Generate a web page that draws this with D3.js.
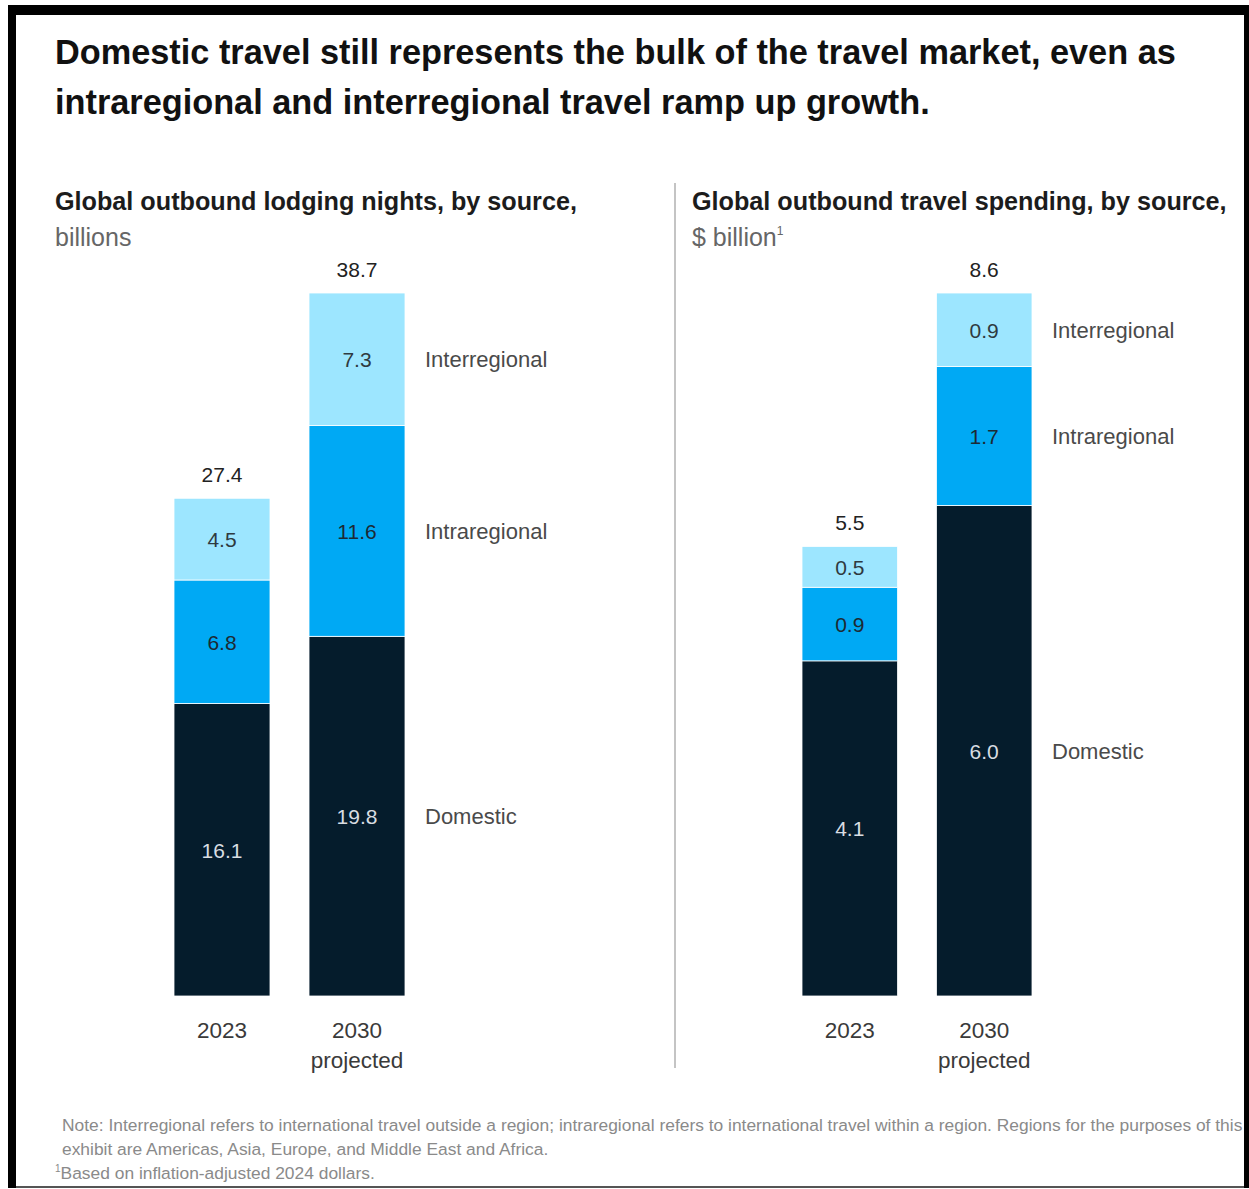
<!DOCTYPE html>
<html>
<head>
<meta charset="utf-8">
<script src="https://cdn.jsdelivr.net/npm/d3@7"></script>
<style>
  html, body { margin: 0; padding: 0; background: #fff; }
  svg { display: block; font-family: "Liberation Sans", Arial, sans-serif; }
</style>
</head>
<body>
<svg id="chart" width="1249" height="1189"></svg>
<script>
// Categories and series
const years = ["2023", "2030"];
const yearNotes = ["", "projected"];
const seriesNames = ["Domestic", "Intraregional", "Interregional"];

// Global outbound lodging nights, billions
const nightsDomestic = [16.1, 19.8];
const nightsIntra = [6.8, 11.6];
const nightsInter = [4.5, 7.3];
const nightsTotal = [27.4, 38.7];

// Global outbound travel spending, $ billion
const spendDomestic = [4.1, 6.0];
const spendIntra = [0.9, 1.7];
const spendInter = [0.5, 0.9];
const spendTotal = [5.5, 8.6];

const seriesColors = ["#051c2c", "#00a9f4", "#9de6ff"];
const valueTextColors = ["#d8dde2", "#1d2a33", "#2f3a40"];

const svg = d3.select("#chart");

// Title
const title = svg.append("g").attr("fill", "#111").attr("font-weight", "bold").attr("font-size", 34.3);
title.append("text").attr("x", 55).attr("y", 64)
  .text("Domestic travel still represents the bulk of the travel market, even as");
title.append("text").attr("x", 55).attr("y", 114)
  .text("intraregional and interregional travel ramp up growth.");

// Divider between the two panels
svg.append("line").attr("x1", 675).attr("x2", 675).attr("y1", 183).attr("y2", 1068)
  .attr("stroke", "#c4c4c4").attr("stroke-width", 2);

function panel(cfg) {
  const g = svg.append("g");
  g.append("text").attr("x", cfg.left).attr("y", 210)
    .attr("font-size", 25.2).attr("font-weight", "bold").attr("fill", "#1c1c1c")
    .text(cfg.title);
  const unit = g.append("text").attr("x", cfg.left).attr("y", 246)
    .attr("font-size", 25).attr("fill", "#666");
  unit.append("tspan").text(cfg.unit);
  if (cfg.unitNote) {
    unit.append("tspan").attr("font-size", 12).attr("dy", -11).text(cfg.unitNote);
  }

  const x = d3.scaleBand().domain(years).range(cfg.xRange).paddingInner(0.289).paddingOuter(0);
  const y = d3.scaleLinear().domain([0, d3.max(cfg.totals)]).range([996, 293]);

  const rows = years.map((yr, i) => ({
    year: yr, Domestic: cfg.series[0][i], Intraregional: cfg.series[1][i], Interregional: cfg.series[2][i]
  }));
  const stacked = d3.stack().keys(seriesNames)(rows);

  stacked.forEach((layer, si) => {
    const lg = g.append("g");
    lg.selectAll("rect").data(layer).join("rect")
      .attr("x", d => x(d.data.year))
      .attr("width", x.bandwidth())
      .attr("y", d => y(d[1]))
      .attr("height", d => y(d[0]) - y(d[1]))
      .attr("fill", seriesColors[si])
      .attr("stroke", "#ffffff").attr("stroke-width", 0.8);
    lg.selectAll("text").data(layer).join("text")
      .attr("x", d => x(d.data.year) + x.bandwidth() / 2)
      .attr("y", d => (y(d[0]) + y(d[1])) / 2 + 8)
      .attr("text-anchor", "middle").attr("font-size", 21)
      .attr("fill", valueTextColors[si])
      .text(d => d3.format(".1f")(d[1] - d[0]));
    // Series name beside the last bar
    const last = layer[layer.length - 1];
    g.append("text")
      .attr("x", x(years[years.length - 1]) + x.bandwidth() + 20)
      .attr("y", (y(last[0]) + y(last[1])) / 2 + 8)
      .attr("font-size", 22).attr("fill", "#4a4a4a")
      .text(seriesNames[si]);
  });

  // Totals above the bars
  g.selectAll("text.total").data(years).join("text").attr("class", "total")
    .attr("x", d => x(d) + x.bandwidth() / 2)
    .attr("y", (d, i) => y(cfg.totals[i]) - 16)
    .attr("text-anchor", "middle").attr("font-size", 21).attr("fill", "#222")
    .text((d, i) => d3.format(".1f")(cfg.totals[i]));

  // Category axis
  const axis = g.append("g").attr("transform", "translate(0,996)")
    .call(d3.axisBottom(x).tickSize(0).tickPadding(0));
  axis.select(".domain").remove();
  axis.selectAll(".tick text").remove();
  axis.selectAll(".tick").each(function (d, i) {
    const t = d3.select(this).append("text").attr("text-anchor", "middle")
      .attr("font-size", 22.5).attr("fill", "#3a3a3a");
    t.append("tspan").attr("x", 0).attr("y", 42).text(d);
    if (yearNotes[i]) t.append("tspan").attr("x", 0).attr("y", 72).text(yearNotes[i]);
  });
}

panel({
  left: 55, title: "Global outbound lodging nights, by source,", unit: "billions",
  xRange: [174, 405], totals: nightsTotal,
  series: [nightsDomestic, nightsIntra, nightsInter]
});
panel({
  left: 692, title: "Global outbound travel spending, by source,", unit: "$ billion", unitNote: "1",
  xRange: [802, 1032], totals: spendTotal,
  series: [spendDomestic, spendIntra, spendInter]
});

// Notes
const notes = svg.append("g").attr("font-size", 17.4).attr("fill", "#8a8a8a");
notes.append("text").attr("x", 62).attr("y", 1131)
  .text("Note: Interregional refers to international travel outside a region; intraregional refers to international travel within a region. Regions for the purposes of this");
notes.append("text").attr("x", 62).attr("y", 1155)
  .text("exhibit are Americas, Asia, Europe, and Middle East and Africa.");
const src = notes.append("text").attr("x", 55).attr("y", 1179);
src.append("tspan").attr("font-size", 10).attr("dy", -7).text("1");
src.append("tspan").attr("dy", 7).text("Based on inflation-adjusted 2024 dollars.");

// Frame
svg.append("path")
  .attr("fill-rule", "evenodd").attr("fill", "#000")
  .attr("d", "M8,5H1249V1188H8Z M16,15H1244V1186H16Z");
svg.append("line").attr("x1", 16).attr("x2", 1244).attr("y1", 1187).attr("y2", 1187)
  .attr("stroke", "#555").attr("stroke-width", 2);
</script>
</body>
</html>
